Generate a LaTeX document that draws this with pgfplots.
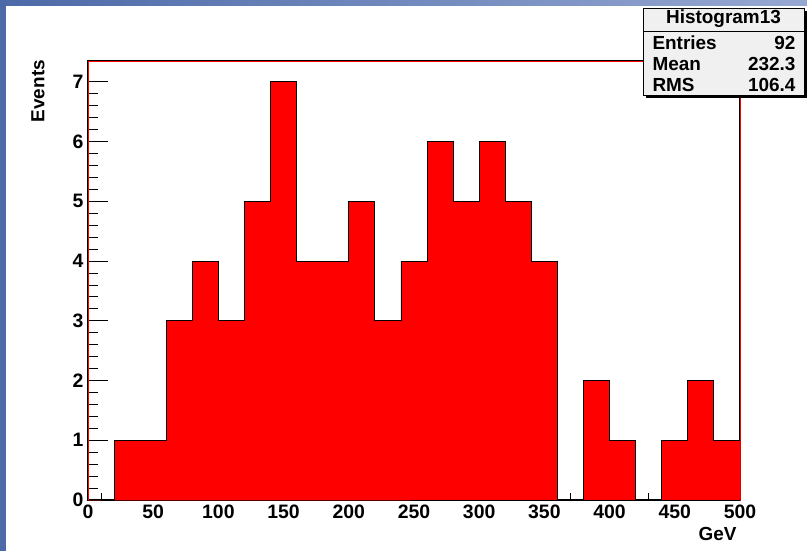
\documentclass[border=0pt]{standalone}
\usepackage{pgfplots}
\pgfplotsset{compat=1.18}
\usepackage{fontspec}
\setmainfont{Liberation Sans}
\definecolor{slideA}{RGB}{76,106,168}
\definecolor{slideB}{RGB}{150,168,210}
\definecolor{statbg}{RGB}{240,240,240}
\begin{document}
\begin{tikzpicture}
% slide background (axis lower-left corner at (0,0) = pixel (88,500))
\fill[white] (-88bp,-51bp) rectangle (719bp,500bp);
\shade[left color=slideA, right color=slideB] (-88bp,494bp) rectangle (719bp,500bp);
\fill[slideA] (-88bp,-51bp) rectangle (-82bp,500bp);
\begin{axis}[
  at={(0,0)}, anchor=south west,
  scale only axis, width=652bp, height=439bp,
  xmin=0, xmax=500, ymin=0, ymax=7.35,
  xtick={0,50,...,500}, ytick={0,1,...,7},
  minor x tick num=4, minor y tick num=4,
  tick align=inside, xtick pos=bottom, ytick pos=left,
  major tick length=20bp, minor tick length=10bp,
  xtick style={/pgfplots/major tick length=13bp, /pgfplots/minor tick length=7bp},
  tick style={black, line width=0.9bp},
  axis line style={draw=black, line width=0.6bp, double=red, double distance=0.9bp},
  /pgf/number format/assume math mode=true,
  ticklabel style={font=\fontsize{19.5}{21}\selectfont\bfseries},
  xticklabel style={yshift=-1bp},
  yticklabel style={xshift=-1bp},
  xlabel={GeV}, ylabel={Events},
  xlabel style={font=\fontsize{19}{21}\selectfont\bfseries, at={(rel axis cs:1,0)}, anchor=north east, yshift=-24bp},
  ylabel style={font=\fontsize{19}{21}\selectfont\bfseries, at={(axis description cs:-0.0767,1.01)}, anchor=east},
]
\addplot[const plot, fill=red, draw=black, line width=0.9bp] coordinates {
(0,0) (20,1) (40,1) (60,3) (80,4) (100,3) (120,5) (140,7) (160,4) (180,4)
(200,5) (220,3) (240,4) (260,6) (280,5) (300,6) (320,5) (340,4) (360,0)
(380,2) (400,1) (420,0) (440,1) (460,2) (480,1) (500,1)
} \closedcycle;
\end{axis}
% statistics box
\fill[black] (558bp,402bp) rectangle (719bp,489bp);
\draw[black, line width=0.9bp, fill=statbg] (555bp,405bp) rectangle (716bp,492bp);
\draw[black, line width=0.9bp] (555bp,469bp) -- (716bp,469bp);
\node[font=\fontsize{19}{21}\selectfont\bfseries] at (635.5bp,481bp) {Histogram13};
\node[font=\fontsize{19}{21}\selectfont\bfseries, anchor=west] at (561bp,457bp) {Entries};
\node[font=\fontsize{19}{21}\selectfont\bfseries, anchor=east] at (711bp,457bp) {92};
\node[font=\fontsize{19}{21}\selectfont\bfseries, anchor=west] at (561bp,436bp) {Mean};
\node[font=\fontsize{19}{21}\selectfont\bfseries, anchor=east] at (711bp,436bp) {232.3};
\node[font=\fontsize{19}{21}\selectfont\bfseries, anchor=west] at (561bp,415bp) {RMS};
\node[font=\fontsize{19}{21}\selectfont\bfseries, anchor=east] at (711bp,415bp) {106.4};
\end{tikzpicture}
\end{document}
